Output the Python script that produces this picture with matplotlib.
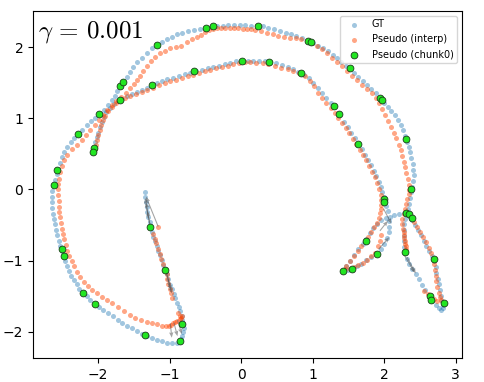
import numpy as np
import matplotlib
matplotlib.use("Agg")
import matplotlib.pyplot as plt

plt.rcParams['mathtext.fontset'] = 'cm'

# ---------------- data ----------------
gt_line = [(-1.35,-0.03),(-1.34,-0.10),(-1.33,-0.17),(-1.32,-0.24),(-1.31,-0.31),(-1.30,-0.38),(-1.28,-0.45),
           (-1.27,-0.52),(-1.25,-0.59),(-1.23,-0.66),(-1.21,-0.72),(-1.18,-0.79),(-1.16,-0.86),(-1.13,-0.92),
           (-1.11,-0.99),(-1.09,-1.06),(-1.06,-1.12),(-1.04,-1.19),(-1.02,-1.26),(-0.99,-1.34),(-0.97,-1.40),
           (-0.94,-1.47),(-0.92,-1.53),(-0.90,-1.59),(-0.87,-1.65),(-0.85,-1.71),(-0.83,-1.77),(-0.82,-1.83),
           (-0.81,-1.89),(-0.80,-1.95),(-0.81,-2.00),(-0.82,-2.05),(-0.84,-2.10),(-0.86,-2.14)]

gt_bottom = [(-0.90,-2.15),(-0.96,-2.15),(-1.03,-2.15),(-1.10,-2.13),(-1.17,-2.11),(-1.24,-2.08),(-1.31,-2.06),
             (-1.38,-2.03),(-1.45,-1.99),(-1.52,-1.95),(-1.59,-1.91),(-1.66,-1.87),(-1.72,-1.83),(-1.79,-1.78),
             (-1.86,-1.74),(-1.93,-1.69),(-1.99,-1.65),(-2.05,-1.61),(-2.11,-1.55),(-2.16,-1.50),(-2.21,-1.45),
             (-2.26,-1.39),(-2.30,-1.33),(-2.34,-1.27),(-2.38,-1.21),(-2.41,-1.14),(-2.44,-1.07),(-2.46,-1.00),
             (-2.48,-0.93),(-2.51,-0.86),(-2.53,-0.79),(-2.55,-0.72),(-2.57,-0.64),(-2.59,-0.57),(-2.60,-0.49),
             (-2.62,-0.41),(-2.63,-0.34),(-2.64,-0.26),(-2.65,-0.18),(-2.65,-0.10),(-2.64,-0.02),(-2.62,0.06)]

gt_outer = [(-2.60,0.14),(-2.58,0.22),(-2.56,0.29),(-2.53,0.37),(-2.50,0.45),(-2.47,0.52),(-2.43,0.59),
            (-2.38,0.66),(-2.33,0.72),(-2.28,0.78),(-2.22,0.84),(-2.16,0.90),(-2.10,0.96),(-2.04,1.01),
            (-1.98,1.06),(-1.92,1.12),(-1.86,1.18),(-1.81,1.25),(-1.77,1.31),(-1.73,1.38),(-1.69,1.45),
            (-1.65,1.51),(-1.60,1.58),(-1.56,1.65),(-1.51,1.72),(-1.45,1.79),(-1.39,1.85),(-1.32,1.92),
            (-1.25,1.98),(-1.18,2.03),(-1.11,2.07),(-1.04,2.11),(-0.97,2.14),(-0.89,2.18),(-0.82,2.20),
            (-0.74,2.23),(-0.66,2.24),(-0.58,2.26),(-0.50,2.27),(-0.42,2.28),(-0.34,2.29),(-0.26,2.30),
            (-0.18,2.31),(-0.10,2.31),(-0.02,2.31),(0.06,2.31),(0.14,2.30),(0.22,2.30),(0.30,2.29),
            (0.38,2.27),(0.46,2.25),(0.54,2.23),(0.62,2.20),(0.69,2.18),(0.77,2.15),(0.85,2.12),(0.93,2.09),
            (1.00,2.05),(1.07,2.02),(1.14,1.98),(1.21,1.94),(1.28,1.89),(1.34,1.84),(1.40,1.79),(1.46,1.74),
            (1.52,1.69),(1.58,1.64),(1.64,1.58),(1.70,1.53),(1.76,1.47),(1.82,1.41),(1.88,1.35),(1.94,1.28),
            (1.99,1.22),(2.05,1.16),(2.10,1.10),(2.15,1.04),(2.19,0.97),(2.23,0.90),(2.26,0.83),(2.29,0.75),
            (2.32,0.67),(2.34,0.60),(2.36,0.52),(2.38,0.44),(2.40,0.36),(2.40,0.28),(2.41,0.20),(2.40,0.12),
            (2.39,0.04),(2.38,-0.04),(2.36,-0.12),(2.35,-0.20),(2.33,-0.27),(2.31,-0.33)]

gt_right_leaf = [(2.34,-0.37),(2.39,-0.43),(2.43,-0.50),(2.47,-0.57),(2.51,-0.64),(2.55,-0.72),(2.59,-0.79),
                 (2.63,-0.86),(2.67,-0.93),(2.70,-1.01),(2.72,-1.09),(2.73,-1.17),(2.75,-1.25),(2.76,-1.33),
                 (2.78,-1.41),(2.79,-1.49),(2.81,-1.56),(2.82,-1.62),(2.82,-1.67),(2.80,-1.69),(2.77,-1.67),
                 (2.72,-1.62),(2.67,-1.56),(2.62,-1.49),(2.57,-1.41),(2.53,-1.34),(2.48,-1.26),(2.44,-1.19),
                 (2.39,-1.12),(2.35,-1.04),(2.32,-0.97),(2.29,-0.89),(2.28,-0.81),(2.27,-0.73),(2.27,-0.65),
                 (2.27,-0.57),(2.28,-0.49),(2.29,-0.42)]

gt_left_leaf = [(2.27,-0.33),(2.21,-0.34),(2.14,-0.36),(2.08,-0.38),(2.02,-0.40),(1.96,-0.43),(1.90,-0.48),
                (1.85,-0.54),(1.80,-0.61),(1.75,-0.70),(1.70,-0.77),(1.64,-0.84),(1.58,-0.92),(1.52,-1.00),
                (1.47,-1.07),(1.43,-1.14),(1.49,-1.13),(1.55,-1.11),(1.62,-1.08),(1.68,-1.04),(1.75,-0.99),
                (1.82,-0.95),(1.89,-0.90),(1.95,-0.83),(2.00,-0.76),(2.04,-0.68),(2.06,-0.60),(2.07,-0.52),
                (2.07,-0.44)]

gt_inner = [(2.05,-0.30),(2.03,-0.23),(2.01,-0.17),(1.99,-0.11),(1.97,-0.04),(1.95,0.04),(1.92,0.11),
            (1.89,0.19),(1.86,0.26),(1.82,0.34),(1.78,0.41),(1.73,0.49),(1.69,0.57),(1.64,0.64),(1.59,0.72),
            (1.54,0.80),(1.49,0.88),(1.44,0.95),(1.37,1.05),(1.30,1.16),(1.25,1.22),(1.19,1.29),(1.13,1.35),
            (1.07,1.42),(1.01,1.50),(0.95,1.56),(0.88,1.61),(0.80,1.65),(0.72,1.69),(0.65,1.72),(0.57,1.75),
            (0.49,1.77),(0.41,1.79),(0.33,1.80),(0.25,1.81),(0.17,1.81),(0.09,1.81),(0.01,1.81),(-0.07,1.80),
            (-0.15,1.78),(-0.23,1.76),(-0.31,1.74),(-0.39,1.72),(-0.47,1.70),(-0.55,1.68),(-0.63,1.66),
            (-0.71,1.64),(-0.79,1.62),(-0.87,1.60),(-0.95,1.57),(-1.03,1.55),(-1.10,1.52),(-1.17,1.49),
            (-1.24,1.46),(-1.31,1.43),(-1.38,1.40),(-1.45,1.37),(-1.52,1.34),(-1.59,1.31),(-1.66,1.27),
            (-1.72,1.24),(-1.78,1.20),(-1.84,1.15),(-1.89,1.09),(-1.92,1.02),(-1.95,0.95),(-1.98,0.88),
            (-2.00,0.80),(-2.02,0.73),(-2.04,0.66),(-2.06,0.58),(-2.07,0.53)]

interp_line = [(-1.16,-0.52),(-1.23,-0.62),(-1.21,-0.69),(-1.19,-0.75),(-1.16,-0.83),(-1.14,-0.90),(-1.12,-0.97),
               (-1.09,-1.04),(-1.06,-1.11),(-1.04,-1.18),(-1.03,-1.25),(-1.02,-1.32),(-1.00,-1.40),(-0.98,-1.46),
               (-0.96,-1.52),(-0.88,-1.73),(-0.85,-1.77)]

interp_bottom = [(-2.56,0.08),(-2.56,0.00),(-2.56,-0.08),(-2.55,-0.16),(-2.55,-0.24),(-2.54,-0.31),(-2.53,-0.39),
                 (-2.52,-0.47),(-2.50,-0.55),(-2.49,-0.62),(-2.47,-0.70),(-2.45,-0.78),(-2.43,-0.86),(-2.40,-0.93),
                 (-2.37,-1.00),(-2.33,-1.08),(-2.29,-1.16),(-2.25,-1.23),(-2.20,-1.30),(-2.14,-1.36),(-2.08,-1.41),
                 (-2.02,-1.46),(-1.95,-1.51),(-1.88,-1.55),(-1.80,-1.60),(-1.72,-1.65),(-1.64,-1.70),(-1.56,-1.76),
                 (-1.48,-1.80),(-1.40,-1.83),(-1.32,-1.86),(-1.24,-1.88),(-1.17,-1.89),(-1.10,-1.91),(-1.05,-1.92),
                 (-1.01,-1.92),(-0.98,-1.90),(-0.95,-1.88),(-0.92,-1.86),(-0.89,-1.84),(-0.86,-1.82),(-0.84,-1.80),
                 (-0.82,-1.78)]

interp_outer = [(-2.55,0.15),(-2.53,0.24),(-2.51,0.33),(-2.47,0.41),(-2.43,0.49),(-2.37,0.57),(-2.30,0.63),
                (-2.23,0.69),(-2.17,0.76),(-2.11,0.84),(-2.05,0.91),(-1.99,0.98),(-1.93,1.05),(-1.87,1.12),
                (-1.81,1.18),(-1.75,1.24),(-1.68,1.30),(-1.61,1.36),(-1.55,1.42),(-1.50,1.48),(-1.46,1.54),
                (-1.42,1.60),(-1.37,1.67),(-1.32,1.74),(-1.26,1.80),(-1.20,1.86),(-1.14,1.91),(-1.07,1.95),
                (-0.99,1.98),(-0.91,2.00),(-0.84,2.02),(-0.76,2.07),(-0.69,2.11),(-0.62,2.14),(-0.56,2.17),
                (-0.50,2.21),(-0.45,2.24),(-0.40,2.26),(-0.34,2.27),(-0.28,2.27),(-0.22,2.27),(-0.16,2.27),
                (-0.10,2.27),(-0.04,2.27),(0.02,2.26),(0.08,2.26),(0.14,2.25),(0.20,2.24),(0.28,2.22),(0.36,2.20),
                (0.44,2.18),(0.52,2.16),(0.60,2.14),(0.68,2.13),(0.76,2.12),(0.84,2.11),(0.92,2.08),(0.99,2.05),
                (1.06,2.01),(1.13,1.97),(1.20,1.91),(1.27,1.85),(1.34,1.79),(1.41,1.73),(1.48,1.66),(1.55,1.60),
                (1.62,1.54),(1.69,1.47),(1.76,1.41),(1.83,1.35),(1.89,1.29),(1.93,1.21),(1.97,1.13),(2.01,1.04),
                (2.05,0.96),(2.09,0.88),(2.13,0.80),(2.17,0.72),(2.20,0.63),(2.23,0.55),(2.25,0.47),(2.27,0.39),
                (2.29,0.31),(2.31,0.23),(2.33,0.15),(2.34,0.07),(2.35,-0.01)]

interp_right_leaf = [(2.34,-0.07),(2.32,-0.14),(2.31,-0.20),(2.29,-0.27),(2.27,-0.34),(2.25,-0.41),(2.25,-0.48),
                     (2.26,-0.55),(2.27,-0.60),(2.28,-0.64),(2.28,-0.68),(2.29,-0.72),(2.29,-0.76),(2.30,-0.80),
                     (2.30,-0.84),(2.38,-0.40),(2.42,-0.46),(2.46,-0.53),(2.50,-0.60),(2.54,-0.67),(2.58,-0.74),
                     (2.62,-0.82),(2.65,-0.89),(2.68,-0.97),(2.70,-1.05),(2.71,-1.13),(2.72,-1.21),(2.73,-1.29),
                     (2.74,-1.37),(2.76,-1.45),(2.78,-1.51),(2.80,-1.55),(2.56,-1.43),(2.61,-1.47),(2.66,-1.51),
                     (2.70,-1.54),(2.74,-1.56)]

interp_left_leaf = [(1.94,-0.33),(1.93,-0.40),(1.90,-0.47),(1.86,-0.53),(1.82,-0.60),(1.78,-0.66),(1.73,-0.73),
                    (1.68,-0.80),(1.63,-0.87),(1.58,-0.93),(1.52,-1.00),(1.47,-1.07),(1.45,-1.12),(1.52,-1.11),
                    (1.58,-1.09),(1.64,-1.06),(1.70,-1.03),(1.76,-0.99),(1.82,-0.94),(1.87,-0.89),(1.91,-0.80),
                    (1.94,-0.72),(1.96,-0.64)]

interp_inner = [(1.92,0.01),(1.90,0.09),(1.87,0.17),(1.83,0.25),(1.79,0.33),(1.75,0.41),(1.70,0.49),(1.66,0.56),
                (1.61,0.64),(1.56,0.71),(1.51,0.79),(1.46,0.86),(1.41,0.93),(1.36,1.00),(1.31,1.08),(1.25,1.15),
                (1.19,1.22),(1.13,1.29),(1.07,1.36),(1.02,1.45),(0.96,1.53),(0.89,1.59),(0.81,1.63),(0.73,1.66),
                (0.65,1.69),(0.56,1.71),(0.47,1.74),(0.38,1.76),(0.30,1.77),(0.21,1.78),(0.13,1.79),(0.05,1.79),
                (-0.03,1.78),(-0.11,1.76),(-0.19,1.74),(-0.27,1.72),(-0.35,1.70),(-0.43,1.68),(-0.51,1.66),
                (-0.59,1.64),(-0.67,1.61),(-0.75,1.59),(-0.83,1.56),(-0.91,1.54),(-0.99,1.52),(-1.07,1.49),
                (-1.15,1.46),(-1.23,1.43),(-1.31,1.40),(-1.39,1.37),(-1.47,1.34),(-1.55,1.31),(-1.62,1.28),
                (-1.69,1.25),(-1.75,1.21),(-1.81,1.16),(-1.86,1.10),(-1.90,1.03),(-1.93,0.97),(-1.96,0.90),
                (-1.98,0.83),(-2.00,0.76),(-2.02,0.69),(-2.03,0.62),(-2.05,0.57),(1.95,-0.08),(1.96,-0.15),
                (1.96,-0.22),(1.96,-0.27)]

chunk0 = [(-2.62,0.07),(-2.57,0.28),(-2.28,0.78),(-1.99,1.06),(-1.69,1.45),(-1.65,1.51),(-1.18,2.03),
          (-1.24,1.46),(-1.69,1.26),(-2.06,0.58),(-2.07,0.53),(-0.49,2.27),(-0.39,2.29),(0.24,2.30),
          (0.94,2.09),(0.97,2.07),(-0.66,1.66),(0.01,1.81),(0.39,1.79),(0.84,1.63),(1.52,1.70),(1.94,1.28),
          (1.97,1.25),(2.30,0.71),(2.38,0.01),(1.30,1.17),(1.37,1.06),(1.64,0.64),(1.99,-0.13),(2.00,-0.18),
          (2.30,-0.33),(2.34,-0.35),(2.39,-0.40),(2.69,-0.97),(2.29,-0.88),(1.75,-0.72),(1.90,-0.90),
          (1.43,-1.15),(1.55,-1.12),(2.64,-1.50),(2.66,-1.55),(2.83,-1.60),(-2.51,-0.83),(-2.48,-0.94),
          (-2.21,-1.46),(-2.05,-1.61),(-1.35,-2.04),(-0.86,-2.13),(-0.83,-1.89),(-1.27,-0.52),(-1.06,-1.13)]

# displacement arrows: (x_start, y_start, x_end, y_end)
arrows = [(-1.16,-0.52,-1.33,-0.10),(-1.30,-0.40,-1.34,-0.12),(-1.28,-0.48,-1.33,-0.18),(-1.27,-0.52,-1.31,-0.30),
          (-1.06,-1.12,-0.99,-1.38),(-1.04,-1.18,-0.98,-1.42),(-1.02,-1.26,-0.97,-1.46),
          (-0.99,-1.88,-0.97,-2.08),(-0.94,-1.87,-0.89,-2.06),(-0.89,-1.83,-0.83,-2.03),
          (1.99,-0.27,2.10,-0.48),(1.92,-0.84,2.07,-0.67),(1.94,-0.58,2.05,-0.44),
          (2.28,-0.92,2.42,-1.16),(2.32,-0.95,2.44,-1.18)]

legend_labels = ["GT", "Pseudo (interp)", "Pseudo (chunk0)"]
title_text = r"$\gamma\,=\,0.001$"
xticks = [-2, -1, 0, 1, 2, 3]
yticks = [-2, -1, 0, 1, 2]

# ---------------- plotting ----------------
gt = np.array(gt_line + gt_bottom + gt_outer + gt_right_leaf + gt_left_leaf + gt_inner)
interp = np.array(interp_line + interp_bottom + interp_outer + interp_right_leaf + interp_left_leaf + interp_inner)
ch = np.array(chunk0)
ar = np.array(arrows)

fig = plt.figure(figsize=(4.85, 3.82), dpi=100)
ax = fig.add_axes([0.068, 0.062, 0.885, 0.910])

ax.scatter(gt[:, 0], gt[:, 1], s=13, c='#1f77b4', alpha=0.42, linewidths=0, label=legend_labels[0], zorder=2)
ax.scatter(interp[:, 0], interp[:, 1], s=13, c='orangered', alpha=0.48, linewidths=0, label=legend_labels[1], zorder=3)
ax.quiver(ar[:, 0], ar[:, 1], ar[:, 2] - ar[:, 0], ar[:, 3] - ar[:, 1], angles='xy', scale_units='xy', scale=1,
          color='0.35', alpha=0.55, width=0.0025, headwidth=4, headlength=5, zorder=4)
ax.scatter(ch[:, 0], ch[:, 1], s=24, c='#22e622', edgecolors='#1a3a1a', linewidths=0.6,
           label=legend_labels[2], zorder=5)

ax.set_xlim(-2.91, 3.09)
ax.set_ylim(-2.37, 2.51)
ax.set_xticks(xticks)
ax.set_yticks(yticks)
ax.tick_params(labelsize=10)

ax.text(0.012, 0.975, title_text, transform=ax.transAxes, fontsize=18, va='top', ha='left')
ax.legend(loc='upper right', fontsize=7)

fig.savefig("out.png", dpi=100)
